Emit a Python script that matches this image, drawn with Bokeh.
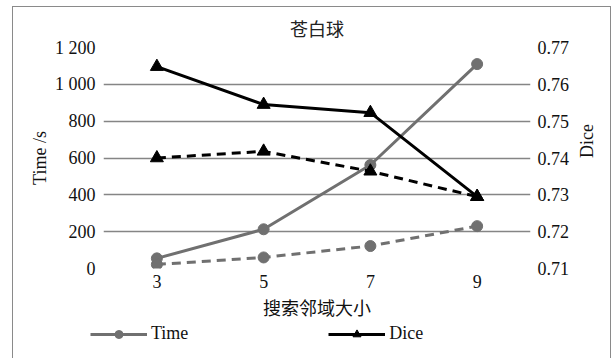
import math
from bokeh.plotting import figure
from bokeh.layouts import column
from bokeh.models import (Range1d, FactorRange, LinearAxis, FixedTicker, PrintfTickFormatter,
                          Legend, LegendItem, InlineStyleSheet)
from bokeh.embed import file_html
from bokeh.resources import INLINE

# neighbourhood sizes on the x axis
sizes = ["3", "5", "7", "9"]

# running time (s) and Dice score, two runs each
time_solid = [55, 213, 562, 1110]
time_dashed = [22, 60, 122, 230]
dice_solid = [0.7648, 0.7545, 0.7523, 0.7295]
dice_dashed = [0.7400, 0.7418, 0.7364, 0.7295]

time_ticks = [0, 200, 400, 600, 800, 1000, 1200]
time_tick_labels = ["0", "200", "400", "600", "800", "1 000", "1 200"]
dice_ticks = [0.71, 0.72, 0.73, 0.74, 0.75, 0.76, 0.77]

SERIF = "Liberation Serif"
CJK = "Noto Sans CJK SC"
GRAY = "#707070"
BLACK = "#000000"
GRID = "#858585"

p = figure(width=612, height=322, x_range=FactorRange(*sizes, range_padding=0),
           y_range=Range1d(0, 1200), output_backend="svg", toolbar_location=None,
           min_border_left=103, min_border_right=82, min_border_top=47, min_border_bottom=53)
p.frame_align = False
p.extra_y_ranges = {"dice": Range1d(0.71, 0.77)}

p.outline_line_color = None
p.background_fill_color = "white"
p.border_fill_color = "white"

# title
p.title.text = "苍白球"
p.title.align = "center"
p.title.text_font = CJK
p.title.text_font_size = "18px"
p.title.text_font_style = "normal"
p.title.text_color = "#222222"
p.title.standoff = 14

# grid
p.xgrid.grid_line_color = None
p.ygrid.ticker = FixedTicker(ticks=time_ticks)
p.ygrid.grid_line_color = GRID
p.ygrid.grid_line_width = 1.5

# left axis
yax = p.yaxis[0]
yax.ticker = FixedTicker(ticks=time_ticks)
yax.major_label_overrides = {t: l for t, l in zip(time_ticks, time_tick_labels)}
yax.axis_label = "Time /s"

# right axis
rax = LinearAxis(y_range_name="dice", ticker=FixedTicker(ticks=dice_ticks),
                 formatter=PrintfTickFormatter(format="%.2f"), axis_label="Dice")
p.add_layout(rax, "right")

xax = p.xaxis[0]
xax.axis_label = "搜索邻域大小"

for ax in (yax, rax, xax):
    ax.axis_line_color = None
    ax.major_tick_line_color = None
    ax.minor_tick_line_color = None
    ax.major_tick_in = 0
    ax.major_tick_out = 0
    ax.major_label_text_font = SERIF
    ax.major_label_text_font_size = "18px"
    ax.major_label_text_color = "#111111"
    ax.axis_label_text_font = SERIF
    ax.axis_label_text_font_size = "18px"
    ax.axis_label_text_font_style = "normal"
    ax.axis_label_text_color = "#111111"

yax.major_label_standoff = 8
yax.axis_label_standoff = 2
rax.major_label_standoff = 7
rax.axis_label_standoff = 15
rax.axis_label_orientation = math.pi / 2
xax.major_label_standoff = 6
xax.axis_label_standoff = 3
xax.axis_label_text_font = CJK
xax.axis_label_text_font_size = "18px"

# series
p.line(sizes, time_solid, line_color=GRAY, line_width=3)
p.scatter(sizes, time_solid, marker="circle", size=11, fill_color=GRAY, line_color=GRAY)
p.line(sizes, time_dashed, line_color=GRAY, line_width=3, line_dash="9 6")
p.scatter(sizes, time_dashed, marker="circle", size=11, fill_color=GRAY, line_color=GRAY)

p.line(sizes, dice_solid, line_color=BLACK, line_width=3, y_range_name="dice")
p.scatter(sizes, dice_solid, marker="triangle", size=13, fill_color=BLACK,
          line_color=BLACK, y_range_name="dice")
p.line(sizes, dice_dashed, line_color=BLACK, line_width=3, line_dash="9 6", y_range_name="dice")
p.scatter(sizes, dice_dashed, marker="triangle", size=13, fill_color=BLACK,
          line_color=BLACK, y_range_name="dice")

# legend strip underneath the chart
q = figure(width=612, height=36, x_range=FactorRange(*sizes), y_range=Range1d(0, 1200),
           output_backend="svg", toolbar_location=None, min_border=0)
q.frame_align = False
q.axis.visible = False
q.grid.grid_line_color = None
q.outline_line_color = None
q.extra_y_ranges = {"dice": Range1d(0.71, 0.77)}

lt = q.line(sizes, time_solid, line_color=GRAY, line_width=3, visible=False)
mt = q.scatter(sizes, time_solid, marker="circle", size=8, fill_color=GRAY, line_color=GRAY,
               visible=False)
ld = q.line(sizes, dice_solid, line_color=BLACK, line_width=3, y_range_name="dice", visible=False)
md = q.scatter(sizes, dice_solid, marker="triangle", size=10, fill_color=BLACK, line_color=BLACK,
               y_range_name="dice", visible=False)

legend = Legend(items=[LegendItem(label="Time", renderers=[lt, mt]),
                       LegendItem(label="Dice", renderers=[ld, md])],
                location=(90, 14), orientation="horizontal",
                glyph_width=57, glyph_height=20, label_standoff=4, spacing=140,
                padding=0, margin=0, border_line_color=None, background_fill_alpha=0,
                inactive_fill_alpha=0, click_policy="none",
                label_text_font=SERIF, label_text_font_size="18px", label_text_color="#111111")
q.add_layout(legend, "center")

# thin frame drawn around the whole chart
frame_css = InlineStyleSheet(css="""
:host::after {
  content: "";
  position: absolute;
  left: 12px; top: 6px; width: 597px; height: 380px;
  border: 1.5px solid #8a8a8a;
  pointer-events: none;
}
""")

layout = column(p, q, spacing=0, stylesheets=[frame_css])

open("out.html", "w").write(file_html(layout, INLINE))
